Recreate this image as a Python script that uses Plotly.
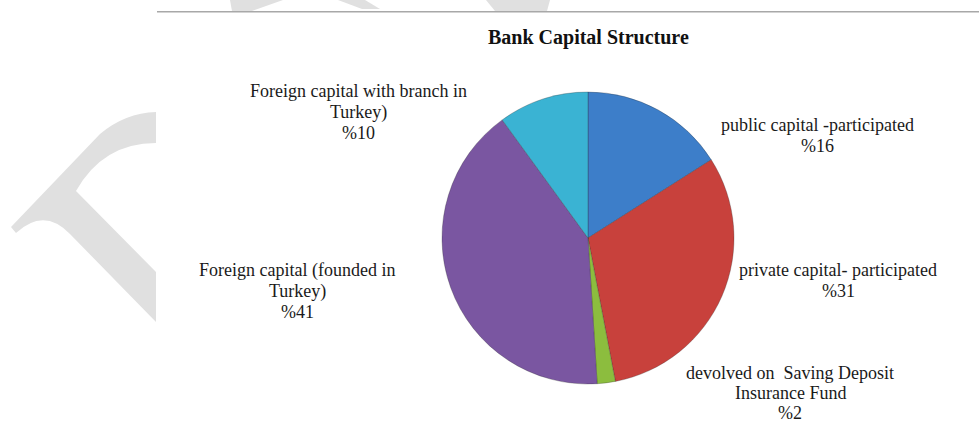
import plotly.graph_objects as go

# ---- data ----
categories = [
    "public capital -participated",
    "private capital- participated",
    "devolved on \u00a0Saving Deposit<br>Insurance Fund",
    "Foreign capital (founded in<br>Turkey)",
    "Foreign capital with branch in<br>Turkey)",
]
shares = [16, 31, 2, 41, 10]
colors = ["#3d7ec9", "#c8413c", "#8cbd3e", "#7a56a1", "#3ab3d3"]
title_text = "Bank Capital Structure"

W, H = 979, 425


def px(x):
    return x / W


def py(y):
    return 1 - y / H


fig = go.Figure()
fig.add_trace(go.Pie(
    labels=[c.replace("<br>", " ") for c in categories],
    values=shares,
    sort=False,
    direction="clockwise",
    rotation=0,
    textinfo="none",
    marker=dict(colors=colors, line=dict(color="rgba(40,40,40,0.35)", width=0.8)),
    domain=dict(x=[px(442), px(734)], y=[py(384), py(92)]),
    showlegend=False,
))

# label placement (centre x, first-line centre y, line gap) in pixels
label_pos = [(817, 125, 21), (838, 270, 21), (790, 373, 20), (297, 270, 21), (358, 91, 21)]
annotations = []
for cat, val, (cx, cy, gap) in zip(categories, shares, label_pos):
    lines = cat.split("<br>") + [f"%{val}"]
    for i, ln in enumerate(lines):
        annotations.append(dict(
            x=px(cx), y=py(cy + i * gap), xref="paper", yref="paper",
            text=ln, showarrow=False, xanchor="center", yanchor="middle",
            font=dict(family="Liberation Serif, Times New Roman, serif", size=18, color="#1a1a1a"),
        ))

annotations.append(dict(
    x=px(588), y=py(38), xref="paper", yref="paper", text=f"<b>{title_text}</b>",
    showarrow=False, xanchor="center", yanchor="middle",
    font=dict(family="Liberation Serif, Times New Roman, serif", size=20, color="#111111"),
))


def path(points_cmds):
    out = []
    for cmd, pts in points_cmds:
        coords = " ".join(f"{px(x):.5f},{py(y):.5f}" for x, y in pts)
        out.append(f"{cmd} {coords}" if pts else cmd)
    return " ".join(out)


wm = "#e0e0e0"
shapes = [
    # page rule at top
    dict(type="line", xref="paper", yref="paper", x0=px(157), x1=1, y0=py(11.7), y1=py(11.7),
         line=dict(color="#a8a8a8", width=1.5), layer="below"),
    # watermark pieces
    dict(type="path", xref="paper", yref="paper", fillcolor=wm, line=dict(width=0), layer="below",
         path=path([("M", [(156, 112)]), ("L", [(156, 143)]), ("Q", [(103, 143), (76, 191)]),
                    ("L", [(156, 272)]), ("L", [(156, 322)]), ("L", [(70, 234)]),
                    ("Q", [(44, 207), (16, 233)]), ("L", [(11, 227)]), ("L", [(100, 134)]),
                    ("Q", [(125, 113), (156, 112)]), ("Z", [])])),
    dict(type="path", xref="paper", yref="paper", fillcolor=wm, line=dict(width=0), layer="below",
         path=path([("M", [(230, 0)]), ("L", [(283, 0)]), ("L", [(252, 11)]), ("L", [(232, 11)]), ("Z", [])])),
    dict(type="path", xref="paper", yref="paper", fillcolor=wm, line=dict(width=0), layer="below",
         path=path([("M", [(338, 0)]), ("L", [(365, 0)]), ("L", [(380, 9)]), ("L", [(362, 9)]), ("Z", [])])),
    dict(type="path", xref="paper", yref="paper", fillcolor=wm, line=dict(width=0), layer="below",
         path=path([("M", [(486, 0)]), ("L", [(550, 0)]), ("L", [(547, 11)]), ("L", [(495, 11)]), ("Z", [])])),
]

fig.update_layout(
    width=W, height=H,
    margin=dict(l=0, r=0, t=0, b=0),
    paper_bgcolor="white", plot_bgcolor="white",
    annotations=annotations, shapes=shapes,
)

fig.write_html("out.html")
